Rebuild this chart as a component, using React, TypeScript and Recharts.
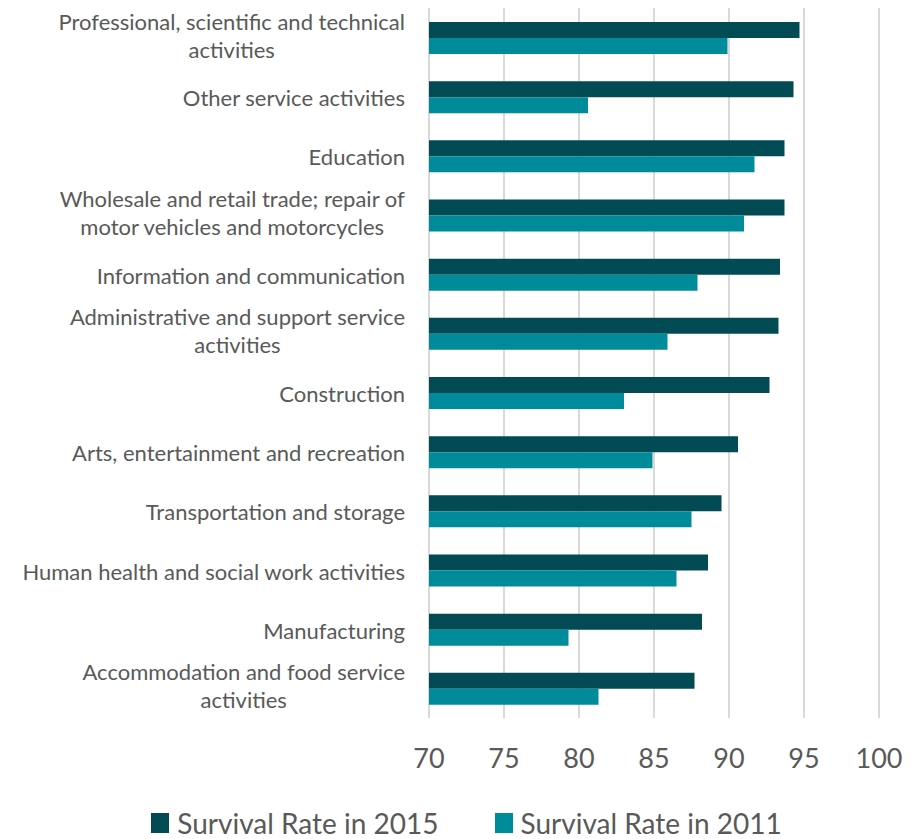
import React from "react";
import { BarChart, Bar, XAxis, YAxis, CartesianGrid, Legend } from "recharts";

const categories = [
  "Professional, scientific and technical activities",
  "Other service activities",
  "Education",
  "Wholesale and retail trade; repair of motor vehicles and motorcycles",
  "Information and communication",
  "Administrative and support service activities",
  "Construction",
  "Arts, entertainment and recreation",
  "Transportation and storage",
  "Human health and social work activities",
  "Manufacturing",
  "Accommodation and food service activities",
];

const categoryLines: string[][] = [
  ["Professional, scientific and technical", "activities"],
  ["Other service activities"],
  ["Education"],
  ["Wholesale and retail trade; repair of", "motor vehicles and motorcycles"],
  ["Information and communication"],
  ["Administrative and support service", "activities"],
  ["Construction"],
  ["Arts, entertainment and recreation"],
  ["Transportation and storage"],
  ["Human health and social work activities"],
  ["Manufacturing"],
  ["Accommodation and food service", "activities"],
];

const rate2015 = [94.7, 94.3, 93.7, 93.7, 93.4, 93.3, 92.7, 90.6, 89.5, 88.6, 88.2, 87.7];
const rate2011 = [89.9, 80.6, 91.7, 91.0, 87.9, 85.9, 83.0, 84.9, 87.5, 86.5, 79.3, 81.3];

const xTicks = [70, 75, 80, 85, 90, 95, 100];

const seriesNames = ["Survival Rate in 2015", "Survival Rate in 2011"];
const seriesColors = ["#024B55", "#008B9B"];

const data = categories.map((c, i) => ({
  name: c,
  r2015: rate2015[i],
  r2011: rate2011[i],
}));

const FONT = "Lato, 'Open Sans', sans-serif";
const TEXT = "#595959";
const LABEL_SIZE = 22;

let ctx: CanvasRenderingContext2D | null = null;
function measure(t: string, size: number): number {
  if (!ctx) {
    const c = document.createElement("canvas");
    ctx = c.getContext("2d");
  }
  if (!ctx) return t.length * size * 0.5;
  ctx.font = `${size}px Lato`;
  return ctx.measureText(t).width;
}

const CategoryTick = (props: any) => {
  const { x, y, payload } = props;
  const idx = categories.indexOf(payload.value);
  const lines = idx >= 0 ? categoryLines[idx] : [String(payload.value)];
  const right = x - 24;
  const w = Math.max(...lines.map((l) => measure(l, LABEL_SIZE)));
  const cx = right - w / 2;
  const lh = 28;
  const startBase = y + 6 - ((lines.length - 1) * lh) / 2 + (lines.length === 1 ? 3.5 : 0);
  return (
    <g>
      {lines.map((l, i) => (
        <text
          key={i}
          x={lines.length === 1 ? right : cx}
          y={startBase + i * lh}
          textAnchor={lines.length === 1 ? "end" : "middle"}
          fontFamily={FONT}
          fontSize={LABEL_SIZE}
          fill={TEXT}
        >
          {l}
        </text>
      ))}
    </g>
  );
};

const ValueTick = (props: any) => {
  const { x, y, payload } = props;
  return (
    <text x={x} y={y + 50} textAnchor="middle" fontFamily={FONT} fontSize={27} fill={TEXT}>
      {payload.value}
    </text>
  );
};

const LegendContent = () => (
  <div
    style={{
      height: 60,
      paddingTop: 34,
      boxSizing: "border-box",
      display: "flex",
      justifyContent: "center",
      paddingLeft: 46,
      fontFamily: FONT,
    }}
  >
    {seriesNames.map((n, i) => (
      <div
        key={n}
        style={{ display: "flex", alignItems: "center", marginRight: i === 0 ? 56 : 0, height: 20 }}
      >
        <div style={{ width: 18, height: 20, background: seriesColors[i], marginRight: 8 }} />
        <span style={{ fontSize: 28, color: TEXT, lineHeight: "20px", whiteSpace: "nowrap" }}>{n}</span>
      </div>
    ))}
  </div>
);

export default function App() {
  return (
    <div style={{ width: 900, height: 831 }}>
      <BarChart
        width={900}
        height={831}
        data={data}
        layout="vertical"
        margin={{ top: 0, right: 29, left: 0, bottom: 0 }}
        barSize={16}
        barGap={0}
      >
        <CartesianGrid horizontal={false} vertical={true} stroke="#D9D9D9" strokeWidth={2} />
        <XAxis
          type="number"
          domain={[70, 100]}
          ticks={xTicks}
          allowDataOverflow
          axisLine={false}
          tickLine={false}
          tickSize={0}
          tickMargin={0}
          height={61}
          tick={<ValueTick />}
          interval={0}
        />
        <YAxis
          type="category"
          dataKey="name"
          width={421}
          axisLine={false}
          tickLine={false}
          tickSize={0}
          tickMargin={0}
          tick={<CategoryTick />}
          interval={0}
        />
        <Legend verticalAlign="bottom" content={<LegendContent />} />
        <Bar dataKey="r2015" name={seriesNames[0]} fill={seriesColors[0]} isAnimationActive={false} />
        <Bar dataKey="r2011" name={seriesNames[1]} fill={seriesColors[1]} isAnimationActive={false} />
      </BarChart>
    </div>
  );
}
